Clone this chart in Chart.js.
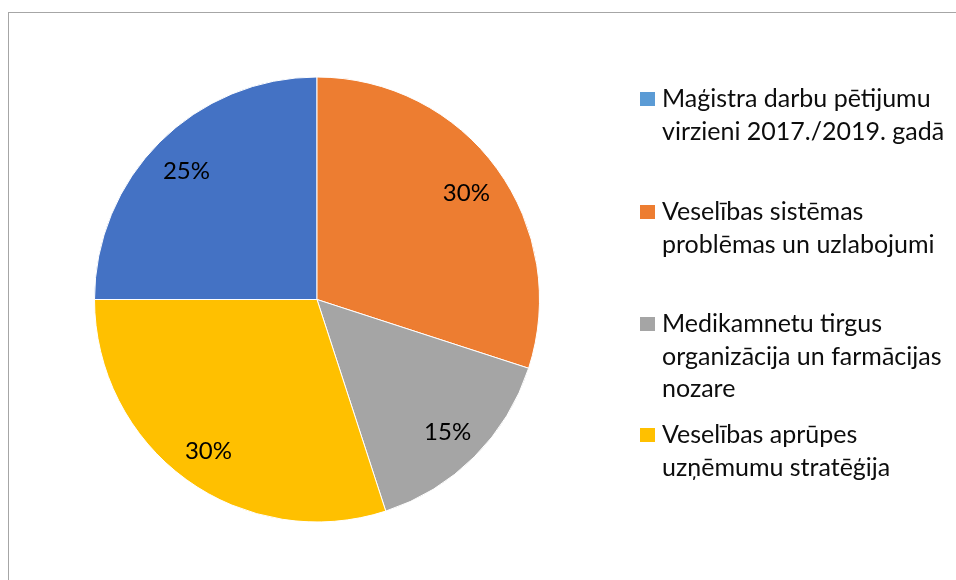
<!DOCTYPE html>
<html>
<head>
<meta charset="utf-8">
<script src="https://cdn.jsdelivr.net/npm/chart.js@4/dist/chart.umd.min.js"></script>
<style>
  html, body { margin: 0; padding: 0; background: #fff; overflow: hidden; }
  #wrap { position: relative; width: 956px; height: 580px; }
  #frame { position: absolute; left: 8px; top: 12px; width: 980px; height: 600px; border: 1px solid #a6a6a6; box-sizing: border-box; }
  canvas { position: absolute; left: 0; top: 0; }
</style>
</head>
<body>
<div id="wrap">
  <div id="frame"></div>
  <canvas id="c" width="956" height="580"></canvas>
</div>
<script>
const categories = [
  ["Maģistra darbu pētijumu", "virzieni 2017./2019. gadā"],
  ["Veselības sistēmas", "problēmas un uzlabojumi"],
  ["Medikamnetu tirgus", "organizācija un farmācijas", "nozare"],
  ["Veselības aprūpes", "uzņēmumu stratēģija"]
];
const shares = [25, 30, 15, 30];
const valueLabels = ["25%", "30%", "15%", "30%"];
const sliceColors = ["#4472C4", "#ED7D31", "#A5A5A5", "#FFC000"];
const legendColors = ["#5B9BD5", "#ED7D31", "#A5A5A5", "#FFC000"];

const FONT = "Lato, 'Liberation Sans', sans-serif";

const sliceLabels = {
  id: 'sliceLabels',
  afterDatasetsDraw(chart) {
    const ctx = chart.ctx;
    const meta = chart.getDatasetMeta(0);
    ctx.save();
    ctx.font = "24px " + FONT;
    ctx.fillStyle = "#000";
    ctx.textAlign = "center";
    ctx.textBaseline = "middle";
    meta.data.forEach((arc, i) => {
      const p = arc.getProps(['x', 'y', 'startAngle', 'endAngle', 'outerRadius'], true);
      const mid = (p.startAngle + p.endAngle) / 2;
      const d = p.outerRadius * 0.83;
      ctx.fillText(valueLabels[i], p.x + Math.cos(mid) * d, p.y + Math.sin(mid) * d + 2);
    });
    ctx.restore();
  }
};

const sideLegend = {
  id: 'sideLegend',
  afterDraw(chart) {
    const ctx = chart.ctx;
    ctx.save();
    ctx.font = "25px " + FONT;
    ctx.textBaseline = "alphabetic";
    ctx.textAlign = "left";
    const firstBase = [107, 220, 332, 443];
    const lineH = 32.5;
    categories.forEach((lines, i) => {
      const b = firstBase[i];
      ctx.fillStyle = legendColors[i];
      ctx.fillRect(640, b - 15, 15, 14);
      ctx.fillStyle = "#0d0d0d";
      lines.forEach((t, j) => ctx.fillText(t, 662, b + j * lineH));
    });
    ctx.restore();
  }
};

new Chart(document.getElementById('c'), {
  type: 'pie',
  data: {
    labels: categories,
    datasets: [{
      data: shares,
      backgroundColor: sliceColors,
      borderColor: "#ffffff",
      borderWidth: 1
    }]
  },
  options: {
    responsive: false,
    animation: false,
    rotation: -90,
    layout: { padding: { left: 94, right: 416, top: 76, bottom: 57 } },
    plugins: {
      legend: { display: false },
      tooltip: { enabled: false }
    }
  },
  plugins: [sliceLabels, sideLegend]
});
</script>
</body>
</html>
